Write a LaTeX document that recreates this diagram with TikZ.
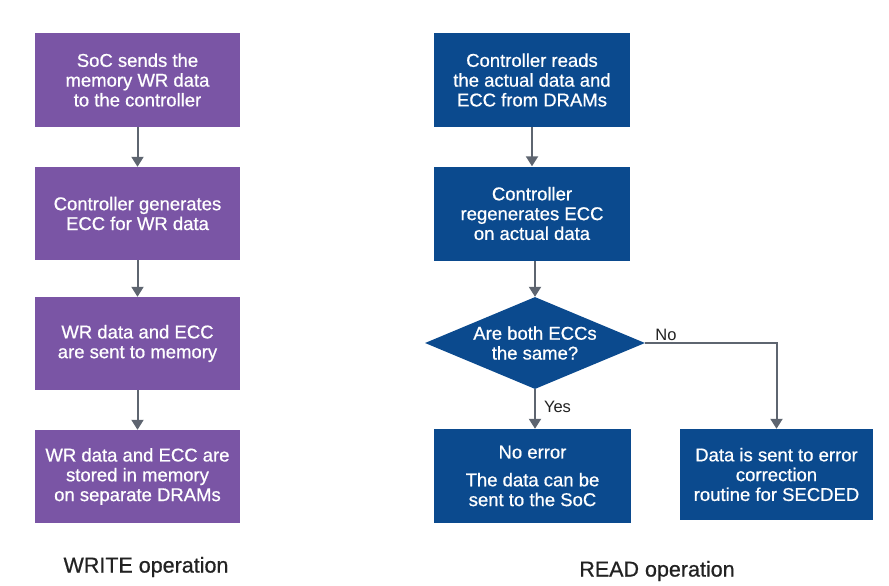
\documentclass[tikz,border=0pt]{standalone}
\usepackage{fontspec}
\setmainfont{Liberation Sans}
\newfontfamily\medfont[FakeBold=0.7]{Liberation Sans}
\usetikzlibrary{arrows.meta,shapes.geometric}
\definecolor{wpurple}{HTML}{7A55A5}
\definecolor{rblue}{HTML}{0B4A8E}
\definecolor{agray}{HTML}{5E6570}
\definecolor{ttext}{HTML}{222222}
\tikzset{
  boxfont/.style={font=\medfont\fontsize{18.5}{19.8}\selectfont},
  wbox/.style={boxfont, fill=wpurple, text=white, minimum width=205pt, minimum height=93pt, align=center, inner sep=0pt},
  rbox/.style={boxfont, fill=rblue, text=white, minimum width=196pt, minimum height=94pt, align=center, inner sep=0pt},
  rdia/.style={boxfont, diamond, aspect=2.4, fill=rblue, text=white, minimum width=220pt, minimum height=92pt, align=center, inner sep=0pt},
  conn/.style={draw=agray, line width=2pt, -{Triangle[width=12pt,length=10pt]}, color=agray},
  lbl/.style={text=ttext, font=\fontsize{16.5}{19}\selectfont, inner sep=0pt},
  ttl/.style={text=ttext, font=\medfont\fontsize{21.5}{25}\selectfont, inner sep=0pt}
}
\begin{document}
\begin{tikzpicture}[x=1pt,y=-1pt]
\useasboundingbox (0,0) rectangle (889,586);
% WRITE column
\node[wbox] (w1) at (137.5,80) {SoC sends the\\memory WR data\\to the controller};
\node[wbox] (w2) at (137.5,213.5) {Controller generates\\ECC for WR data};
\node[wbox] (w3) at (137.5,343.5) {WR data and ECC\\are sent to memory};
\node[wbox] (w4) at (137.5,476.5) {WR data and ECC are\\stored in memory\\on separate DRAMs};
\draw[conn] (w1) -- (w2);
\draw[conn] (w2) -- (w3);
\draw[conn] (w3) -- (w4);
\node[ttl] (wt) at (146,567) {WRITE operation};
% READ column
\node[rbox] (r1) at (532,80) {Controller reads\\the actual data and\\ECC from DRAMs};
\node[rbox] (r2) at (532,213.5) {Controller\\regenerates ECC\\on actual data};
\node[rdia] (d) at (535,343) {Are both ECCs\\the same?};
\node[rbox, minimum width=197pt] (ok) at (532.5,476) {No error\\[8pt]The data can be\\sent to the SoC};
\node[rbox, minimum width=193pt, minimum height=91pt] (err) at (776.5,474.5) {Data is sent to error\\correction\\routine for SECDED};
\draw[conn] (r1) -- (r2);
\draw[conn] (r2.south -| d.north) -- (d.north);
\draw[conn] (d.south) -- (d.south |- ok.north) node[lbl, pos=0.45, anchor=west, xshift=8pt] (yes) {Yes};
\draw[conn] (d.east) -| (err.north) node[lbl, pos=0.035, anchor=south west, yshift=1.5pt] (no) {No};
\node[ttl] (rt) at (657,571) {READ operation};
\end{tikzpicture}
\end{document}
